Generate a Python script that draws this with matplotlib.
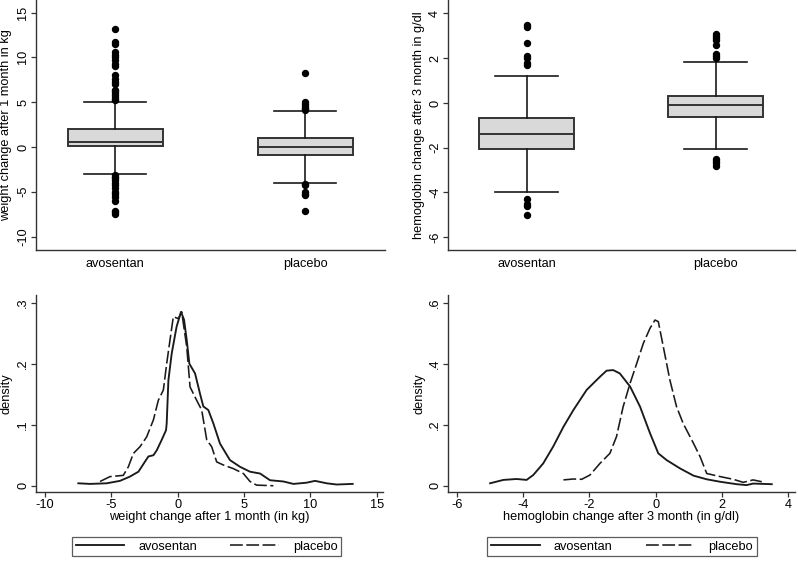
import matplotlib
matplotlib.use("Agg")
import matplotlib.pyplot as plt
from matplotlib.lines import Line2D

plt.rcParams['font.family'] = ['Liberation Sans', 'DejaVu Sans']
plt.rcParams['font.size'] = 9
plt.rcParams['axes.unicode_minus'] = False

groups = ['avosentan', 'placebo']

# box plot summaries (q1, median, q3, lower whisker, upper whisker)
wt_q1 = [0.05, -0.9]
wt_med = [0.6, 0.0]
wt_q3 = [2.0, 1.0]
wt_whislo = [-3.0, -4.0]
wt_whishi = [5.0, 4.0]
wt_out_avo = [5.2, 5.4, 5.6, 5.8, 6.0, 6.2, 6.4, 7.0, 7.3, 7.6, 8.0, 9.0, 9.3, 9.7,
              10.0, 10.3, 10.6, 11.5, 11.7, 13.2,
              -3.1, -3.3, -3.5, -3.7, -4.0, -4.3, -4.6, -5.0, -5.3, -5.6, -6.0,
              -7.1, -7.3, -7.5]
wt_out_plc = [4.1, 4.2, 4.4, 4.6, 4.8, 5.0, 8.3, -4.1, -4.3, -5.0, -5.2, -5.4, -7.2]

hb_q1 = [-2.06, -0.64]
hb_med = [-1.39, -0.08]
hb_q3 = [-0.69, 0.31]
hb_whislo = [-4.0, -2.07]
hb_whishi = [1.2, 1.81]
hb_out_avo = [1.7, 1.8, 2.0, 2.1, 2.7, 3.4, 3.5, -4.3, -4.5, -4.6, -5.0]
hb_out_plc = [2.0, 2.1, 2.2, 2.6, 2.8, 2.9, 3.0, 3.1, -2.5, -2.6, -2.7, -2.8]

# density curves
wt_avo_x = [-7.49, -6.6, -5.35, -4.35, -3.6, -2.96, -2.54, -2.21, -1.83, -1.58, -1.21,
            -0.88, -0.83, -0.70, -0.45, -0.08, 0.25, 0.48, 0.68, 0.88, 1.31, 1.68,
            1.93, 2.31, 2.69, 3.19, 3.94, 4.7, 5.45, 6.21, 6.96, 7.96, 8.72, 9.72,
            10.35, 11.23, 11.98, 13.19]
wt_avo_y = [0.004, 0.003, 0.004, 0.008, 0.015, 0.023, 0.037, 0.048, 0.050, 0.058, 0.075,
            0.091, 0.102, 0.173, 0.217, 0.261, 0.285, 0.272, 0.239, 0.200, 0.184, 0.151,
            0.130, 0.124, 0.102, 0.069, 0.042, 0.031, 0.023, 0.020, 0.009, 0.007, 0.003,
            0.005, 0.008, 0.004, 0.002, 0.003]
wt_plc_x = [-5.85, -5.1, -4.1, -3.72, -3.34, -2.84, -2.34, -1.83, -1.46, -1.08, -0.83,
            -0.58, -0.33, 0.05, 0.3, 0.68, 0.93, 1.43, 1.81, 2.19, 2.56, 2.94, 3.44,
            4.2, 4.95, 5.45, 5.95, 7.21]
wt_plc_y = [0.007, 0.015, 0.017, 0.031, 0.053, 0.064, 0.080, 0.108, 0.140, 0.157, 0.200,
            0.239, 0.277, 0.274, 0.285, 0.228, 0.162, 0.140, 0.124, 0.075, 0.064, 0.039,
            0.034, 0.028, 0.020, 0.007, 0.001, 0.0]

hb_avo_x = [-4.99, -4.59, -4.19, -3.89, -3.69, -3.39, -3.09, -2.78, -2.48, -2.08, -1.68,
            -1.48, -1.28, -1.08, -0.77, -0.47, -0.17, 0.08, 0.33, 0.73, 1.14, 1.54,
            1.94, 2.44, 2.74, 2.94, 3.5]
hb_avo_y = [0.008, 0.019, 0.022, 0.019, 0.035, 0.073, 0.128, 0.193, 0.248, 0.314, 0.357,
            0.377, 0.379, 0.368, 0.325, 0.259, 0.172, 0.106, 0.084, 0.057, 0.033, 0.021,
            0.013, 0.005, 0.002, 0.007, 0.005]
hb_plc_x = [-2.78, -2.48, -2.23, -1.98, -1.68, -1.38, -1.18, -0.98, -0.77, -0.57, -0.37,
            -0.17, -0.02, 0.08, 0.23, 0.43, 0.63, 0.83, 1.14, 1.34, 1.54, 1.94, 2.34,
            2.64, 2.94, 3.2]
hb_plc_y = [0.019, 0.022, 0.021, 0.035, 0.073, 0.106, 0.161, 0.259, 0.336, 0.401, 0.467,
            0.516, 0.543, 0.538, 0.456, 0.346, 0.259, 0.204, 0.139, 0.095, 0.040, 0.030,
            0.021, 0.011, 0.019, 0.013]

DASH = (0, (8, 2.2))
INK = '#1a1a1a'
FS = 9.2
LW_SOLID = 1.35
LW_DASH = 1.15


def style_axes(ax, label_x):
    for s in ['top', 'right']:
        ax.spines[s].set_visible(False)
    for s in ['left', 'bottom']:
        ax.spines[s].set_color('#333333')
        ax.spines[s].set_linewidth(1.0)
    ax.tick_params(direction='out', length=3.5, width=0.9, colors='#333333',
                   labelcolor='black', labelsize=FS, pad=1.5)
    plt.setp(ax.get_yticklabels(), rotation=90, va='center')
    ax.yaxis.set_label_coords(label_x, 0.5)


def box_panel(ax, q1, med, q3, lo, hi, outs, ylabel, ylim, yticks, label_x):
    stats = []
    for i in range(2):
        stats.append(dict(q1=q1[i], med=med[i], q3=q3[i], whislo=lo[i], whishi=hi[i],
                          fliers=outs[i], label=groups[i]))
    ax.bxp(stats, positions=[1, 2], widths=0.5, patch_artist=True, capwidths=0.33,
           boxprops=dict(facecolor='#d9d9d9', edgecolor='#333333', linewidth=1.4),
           medianprops=dict(color='#333333', linewidth=1.4),
           whiskerprops=dict(color=INK, linewidth=1.2),
           capprops=dict(color=INK, linewidth=1.2),
           flierprops=dict(marker='o', markerfacecolor='black', markeredgecolor='black',
                           markersize=4.3))
    ax.set_xlim(0.584, 2.42)
    ax.set_ylim(*ylim)
    ax.set_yticks(yticks)
    ax.set_ylabel(ylabel, fontsize=FS)
    style_axes(ax, label_x)
    ax.tick_params(axis='x', length=0, pad=6)


def dens_panel(ax, xa, ya, xp, yp, xlabel, xlim, ylim, xticks, yticks, ytl, label_x):
    ax.plot(xa, ya, color=INK, linewidth=LW_SOLID)
    ax.plot(xp, yp, color=INK, linewidth=LW_DASH, linestyle=DASH)
    ax.set_xlim(*xlim)
    ax.set_ylim(*ylim)
    ax.set_xticks(xticks)
    ax.set_yticks(yticks)
    ax.set_yticklabels(ytl)
    ax.set_xlabel(xlabel, fontsize=FS, labelpad=0)
    ax.set_ylabel('density', fontsize=FS)
    style_axes(ax, label_x)


fig = plt.figure(figsize=(7.98, 5.61), dpi=100)

ax1 = fig.add_axes([0.0451, 0.5544, 0.4373, 0.4456])
box_panel(ax1, wt_q1, wt_med, wt_q3, wt_whislo, wt_whishi, [wt_out_avo, wt_out_plc],
          'weight change after 1 month in kg', (-11.5, 16.4), [-10, -5, 0, 5, 10, 15],
          -0.069)

ax2 = fig.add_axes([0.5614, 0.5544, 0.4348, 0.4456])
box_panel(ax2, hb_q1, hb_med, hb_q3, hb_whislo, hb_whishi, [hb_out_avo, hb_out_plc],
          'hemoglobin change after 3 month in g/dl', (-6.57, 4.6), [-6, -4, -2, 0, 2, 4],
          -0.066)

ax3 = fig.add_axes([0.0451, 0.1235, 0.4348, 0.3506])
dens_panel(ax3, wt_avo_x, wt_avo_y, wt_plc_x, wt_plc_y,
           'weight change after 1 month (in kg)', (-10.68, 15.47), (-0.0098, 0.3126),
           [-10, -5, 0, 5, 10, 15], [0, 0.1, 0.2, 0.3], ['0', '.1', '.2', '.3'], -0.069)

ax4 = fig.add_axes([0.5614, 0.1235, 0.4348, 0.3506])
dens_panel(ax4, hb_avo_x, hb_avo_y, hb_plc_x, hb_plc_y,
           'hemoglobin change after 3 month (in g/dl)', (-6.26, 4.2), (-0.0197, 0.625),
           [-6, -4, -2, 0, 2, 4], [0, 0.2, 0.4, 0.6], ['0', '.2', '.4', '.6'], -0.066)

handles = [Line2D([], [], color=INK, linewidth=LW_SOLID),
           Line2D([], [], color=INK, linewidth=LW_DASH, linestyle=DASH)]
for cx in [0.2588, 0.7794]:
    leg = fig.legend(handles, groups, loc='center', bbox_to_anchor=(cx, 0.0258),
                     ncol=2, fontsize=FS, frameon=True, fancybox=False,
                     handlelength=3.8, columnspacing=2.6, handletextpad=1.1,
                     borderpad=0.3, borderaxespad=0)
    leg.get_frame().set_edgecolor('#333333')
    leg.get_frame().set_linewidth(0.9)

fig.savefig('out.png', dpi=100)
